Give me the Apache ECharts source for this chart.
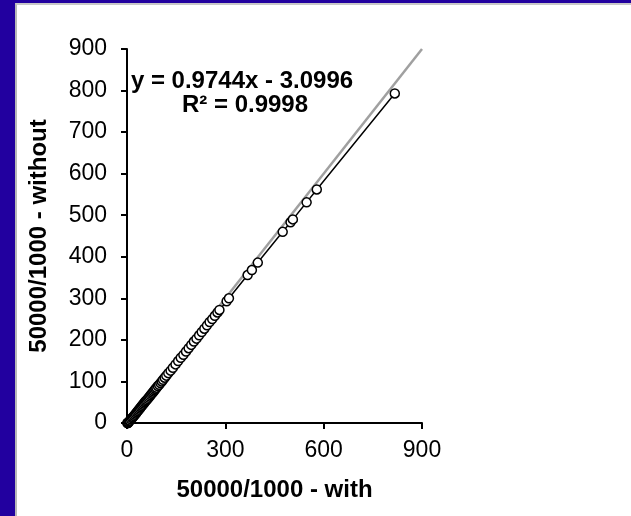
<!doctype html>
<html>
<head>
  <meta charset="UTF-8" />
  <title>with vs without</title>
  <script src="https://cdn.jsdelivr.net/npm/echarts@6/dist/echarts.min.js"></script>
  <style>
    html, body {
      margin: 0;
      padding: 0;
      width: 631px;
      height: 516px;
      overflow: hidden;
      background: #22009f;
    }
    #frame {
      position: absolute;
      left: 15px;
      top: 3px;
      right: 0;
      bottom: 0;
      background: #ffffff;
      border-left: 2px solid #b8b8b8;
      border-top: 2px solid #c8c8c8;
    }
    #chart {
      position: absolute;
      left: 0;
      top: 0;
      width: 631px;
      height: 516px;
    }
  </style>
</head>
<body>
  <div id="frame"></div>
  <div id="chart"></div>
  <script>
    // x = "50000/1000 - with", y = "50000/1000 - without"
    const withVals = [1, 2, 3, 5, 7, 9, 12, 15, 18, 21, 24, 27, 30, 33, 36, 39, 42, 45, 48, 51, 54, 57, 60, 63, 66, 69, 72, 75, 78, 81, 84, 87, 90, 94, 98, 102, 106, 110, 115, 120, 126, 133, 140, 148, 156, 164, 172, 180, 188, 196, 204, 212, 220, 228, 236, 244, 252, 260, 268, 276, 282, 304, 311, 368, 381, 399, 475, 499, 506, 548, 579, 817];
    const withoutVals = [0, 0, 0, 2, 4, 6, 9, 12, 14, 17, 20, 23, 26, 29, 32, 35, 38, 41, 44, 47, 50, 53, 55, 58, 61, 64, 67, 70, 73, 76, 79, 82, 85, 89, 92, 96, 100, 104, 109, 114, 120, 126, 133, 141, 149, 157, 164, 172, 180, 188, 196, 203, 211, 219, 227, 235, 243, 250, 258, 266, 272, 293, 300, 356, 368, 386, 460, 483, 490, 531, 562, 793];
    const refLine = [[0, 0], [900, 900]];
    const xTicks = { min: 0, max: 900, interval: 300 };
    const yTicks = { min: 0, max: 900, interval: 100 };
    const equationText = "y = 0.9744x - 3.0996";
    const r2Text = "R² = 0.9998";

    const chart = echarts.init(document.getElementById("chart"), null, { renderer: "canvas" });

    const points = withVals.map((x, i) => [x, withoutVals[i]]);
    const font = "'Liberation Sans', Arial, sans-serif";

    const axisCommon = {
      type: "value",
      nameLocation: "middle",
      nameTextStyle: { fontFamily: font, fontSize: 24, fontWeight: "bold", color: "#000" },
      axisLine: { show: true, onZero: false, lineStyle: { color: "#000", width: 2 } },
      axisTick: { show: true, inside: false, length: 6, lineStyle: { color: "#000", width: 2 } },
      axisLabel: { fontFamily: font, fontSize: 23, color: "#000" },
      splitLine: { show: false },
    };

    const option = {
      animation: false,
      backgroundColor: "transparent",
      grid: { left: 127, right: 209, top: 49, bottom: 93, containLabel: false },
      xAxis: Object.assign({}, axisCommon, {
        name: "50000/1000 - with",
        nameGap: 55,
        min: xTicks.min,
        max: xTicks.max,
        interval: xTicks.interval,
        axisLabel: Object.assign({}, axisCommon.axisLabel, { margin: 16 }),
      }),
      yAxis: Object.assign({}, axisCommon, {
        name: "50000/1000 - without",
        nameGap: 76,
        min: yTicks.min,
        max: yTicks.max,
        interval: yTicks.interval,
        axisLabel: Object.assign({}, axisCommon.axisLabel, { margin: 20 }),
      }),
      series: [
        {
          name: "reference",
          type: "line",
          data: refLine,
          symbol: "none",
          lineStyle: { color: "#a0a0a0", width: 2.5 },
          z: 1,
        },
        {
          name: "data",
          type: "line",
          data: points,
          symbol: "circle",
          symbolSize: 9,
          itemStyle: { color: "#ffffff", borderColor: "#000", borderWidth: 1.5 },
          lineStyle: { color: "#000", width: 1.5 },
          clip: false,
          z: 2,
        },
      ],
      graphic: [
        {
          type: "text",
          x: 242,
          y: 81,
          style: {
            text: equationText,
            font: "bold 24px " + font,
            fill: "#000",
            align: "center",
            verticalAlign: "middle",
          },
          z: 10,
        },
        {
          type: "text",
          x: 245,
          y: 105,
          style: {
            text: r2Text,
            font: "bold 24px " + font,
            fill: "#000",
            align: "center",
            verticalAlign: "middle",
          },
          z: 10,
        },
      ],
    };

    chart.setOption(option);
  </script>
</body>
</html>
